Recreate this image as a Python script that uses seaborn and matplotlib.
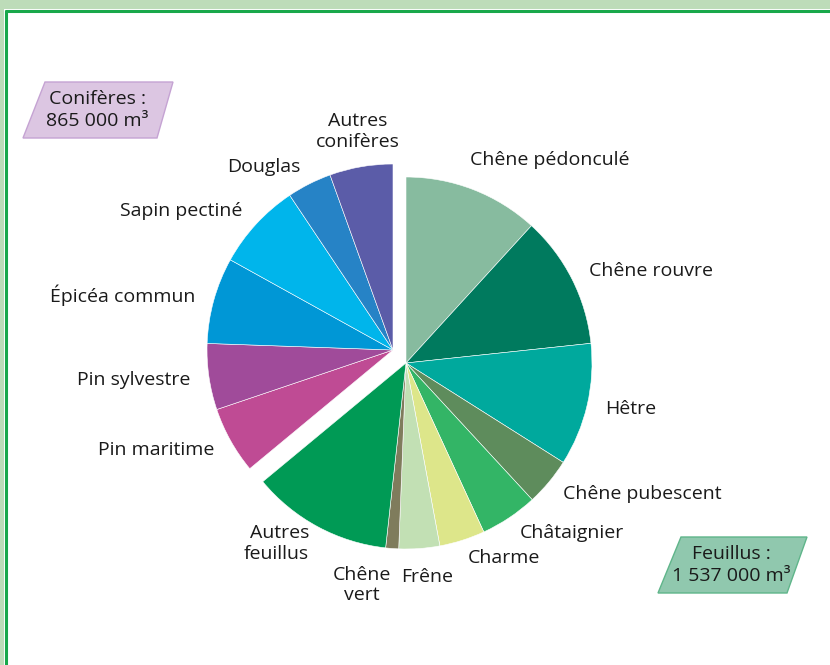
import matplotlib.pyplot as plt
import seaborn as sns
from matplotlib.patches import Polygon, Rectangle
from matplotlib.lines import Line2D

# volumes in thousand m3
feuillus_labels = ["Chêne pédonculé", "Chêne rouvre", "Hêtre", "Chêne pubescent",
                   "Châtaignier", "Charme", "Frêne", "Chêne\nvert", "Autres\nfeuillus"]
feuillus_values = [283, 277, 256, 100, 120, 95, 85, 27, 294]
feuillus_colors = ["#87bb9f", "#007a5e", "#00a99d", "#5e8c5c", "#33b566",
                   "#dde68a", "#c2e0b4", "#7f7c5c", "#009a55"]

coniferes_labels = ["Pin maritime", "Pin sylvestre", "Épicéa commun", "Sapin pectiné",
                    "Douglas", "Autres\nconifères"]
coniferes_values = [140, 138, 180, 182, 93, 132]
coniferes_colors = ["#bf4b94", "#a04b9a", "#0097d6", "#00b5eb", "#2683c6", "#5b5ca8"]

total_feuillus = "Feuillus :\n1 537 000 m³"
total_coniferes = "Conifères :\n865 000 m³"

sns.set_theme(style="white")
plt.rcParams['font.family'] = ['Open Sans', 'DejaVu Sans']

W, H = 830, 665
R_PX = 186
CX, CY = 406, 363
FS = 14


def px(x, y):
    return (x / W, 1 - y / H)


fig = plt.figure(figsize=(W / 100, H / 100), dpi=100)
ax = fig.add_axes([0, 0, 1, 1])

values = feuillus_values + coniferes_values
colors = feuillus_colors + coniferes_colors
n = len(feuillus_values)
m = len(coniferes_values)
wedge_kw = dict(edgecolor='white', linewidth=0.4)
text_kw = dict(fontsize=FS, color='#1a1a1a')

# feuillus group
w1, t1 = ax.pie(values, colors=colors, labels=feuillus_labels + [''] * m,
                startangle=90, counterclock=False, labeldistance=1.1,
                wedgeprops=wedge_kw, textprops=text_kw)
for w in w1[n:]:
    w.set_visible(False)

# conifères group, pulled out together
w2, t2 = ax.pie(values, colors=colors, labels=[''] * n + coniferes_labels,
                startangle=90, counterclock=False, labeldistance=1.1,
                center=(-13 / R_PX, 13 / R_PX),
                wedgeprops=wedge_kw, textprops=text_kw)
for w in w2[:n]:
    w.set_visible(False)

# small hand nudges for the crowded labels (in pixels)
nudges = {
    "Autres\nconifères": (0, 17),
    "Frêne": (6, -10),
    "Chêne\nvert": (0, -18),
    "Chêne pédonculé": (-10, 12),
}
for t in t1 + t2:
    s = t.get_text()
    if s in nudges:
        x, y = t.get_position()
        dx, dy = nudges[s]
        t.set_position((x + dx / R_PX, y + dy / R_PX))
        if s in ("Autres\nconifères", "Frêne"):
            t.set_ha('center')
        if s == "Chêne\nvert":
            t.set_multialignment('center')

ax.set_xlim(-CX / R_PX, (W - CX) / R_PX)
ax.set_ylim((CY - H) / R_PX, CY / R_PX)
ax.axis('off')

# total boxes
fig.add_artist(Polygon([px(45, 82), px(173, 82), px(157, 138), px(23, 138)],
                       closed=True, transform=fig.transFigure,
                       facecolor='#dcc6e2', edgecolor='#c5a3d3', lw=1))
fig.text(*px(97, 110), total_coniferes, ha='center', va='center', fontsize=FS,
         color='#1a1a1a', linespacing=1.3)

fig.add_artist(Polygon([px(681, 537), px(807, 537), px(787, 593), px(658, 593)],
                       closed=True, transform=fig.transFigure,
                       facecolor='#90c8ae', edgecolor='#5fb58a', lw=1))
fig.text(*px(731, 565), total_feuillus, ha='center', va='center', fontsize=FS,
         color='#1a1a1a', linespacing=1.3)

# frame
fig.add_artist(Rectangle((0, 1 - 9 / H), 1, 9 / H, transform=fig.transFigure,
                         facecolor='#bddcb9', edgecolor='none'))
fig.add_artist(Rectangle((0, 0), 4 / W, 1, transform=fig.transFigure,
                         facecolor='#bddcb9', edgecolor='none'))
fig.add_artist(Line2D([5.5 / W, 1], [1 - 10.5 / H] * 2, transform=fig.transFigure,
                      color='#19a84b', lw=2.2))
fig.add_artist(Line2D([5.5 / W] * 2, [0, 1 - 10.5 / H], transform=fig.transFigure,
                      color='#19a84b', lw=2.2))

fig.savefig("out.png", dpi=100)
